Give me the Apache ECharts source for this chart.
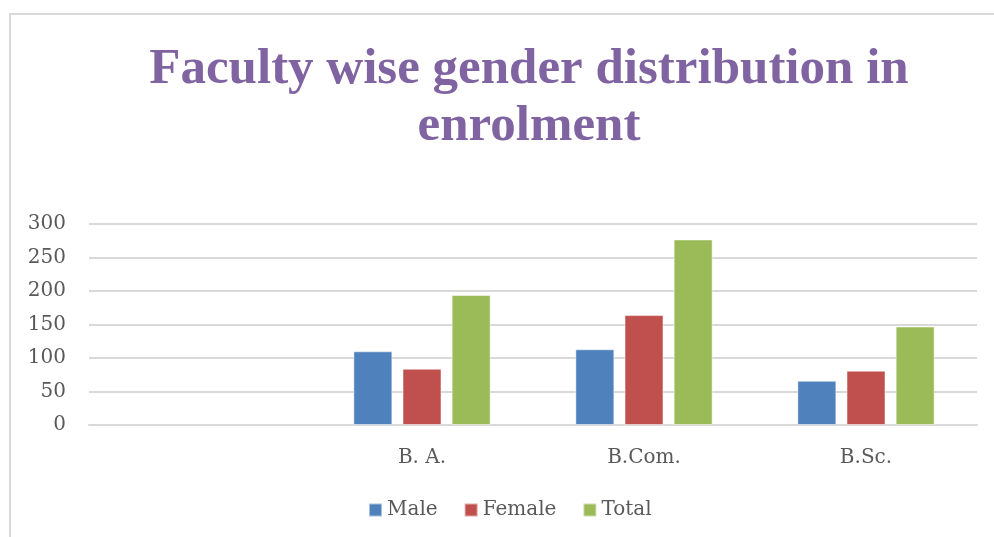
<!DOCTYPE html>
<html>
<head>
<meta charset="utf-8">
<script src="https://cdn.jsdelivr.net/npm/echarts@6/dist/echarts.min.js"></script>
<style>
  html, body { margin: 0; padding: 0; background: #fff; overflow: hidden; }
  #frame { position: absolute; left: 9px; top: 13px; width: 1000px; height: 600px; border: 2px solid #d9d9d9; }
  #chart { position: absolute; left: 0; top: 0; width: 994px; height: 537px; }
</style>
</head>
<body>
<div id="frame"></div>
<div id="chart"></div>
<script>
// first category is empty in the original chart
var categories = ['', 'B. A.', 'B.Com.', 'B.Sc.']
var male = [null, 110, 113, 66]
var female = [null, 84, 164, 81]
var total = [null, 194, 277, 147]
var yTicks = { min: 0, max: 300, interval: 50 }

var titleFont = "'Liberation Serif', serif"
var font = "'DejaVu Serif', serif"
var chart = echarts.init(document.getElementById('chart'))

function bar (name, data, color) {
  return {
    name: name,
    type: 'bar',
    data: data,
    barWidth: 39,
    barGap: '26%',
    itemStyle: { color: color, borderColor: 'rgba(255,255,255,0.5)', borderWidth: 1 }
  }
}

chart.setOption({
  animation: false,
  title: {
    text: 'Faculty wise gender distribution in\nenrolment',
    left: 524,
    textAlign: 'center',
    top: 36,
    textStyle: {
      fontFamily: titleFont,
      fontWeight: 'bold',
      fontSize: 51,
      lineHeight: 57,
      color: '#8064A2'
    }
  },
  legend: {
    bottom: 12,
    left: 363,
    itemWidth: 13,
    itemHeight: 13,
    itemGap: 26,
    icon: 'rect',
    textStyle: { fontFamily: font, fontSize: 20, color: '#595959' },
    data: ['Male', 'Female', 'Total']
  },
  grid: { left: 89, right: 17, top: 224, bottom: 112 },
  xAxis: {
    type: 'category',
    data: categories,
    axisTick: { show: false },
    axisLine: { lineStyle: { color: '#d9d9d9', width: 2 } },
    axisLabel: { fontFamily: font, fontSize: 20, color: '#595959', margin: 23 }
  },
  yAxis: {
    type: 'value',
    min: yTicks.min,
    max: yTicks.max,
    interval: yTicks.interval,
    axisLine: { show: false },
    axisTick: { show: false },
    splitLine: { lineStyle: { color: '#d9d9d9', width: 2 } },
    axisLabel: { fontFamily: font, fontSize: 20, color: '#595959', margin: 23 }
  },
  series: [
    bar('Male', male, '#4F81BD'),
    bar('Female', female, '#C0504D'),
    bar('Total', total, '#9BBB59')
  ]
})
</script>
</body>
</html>
